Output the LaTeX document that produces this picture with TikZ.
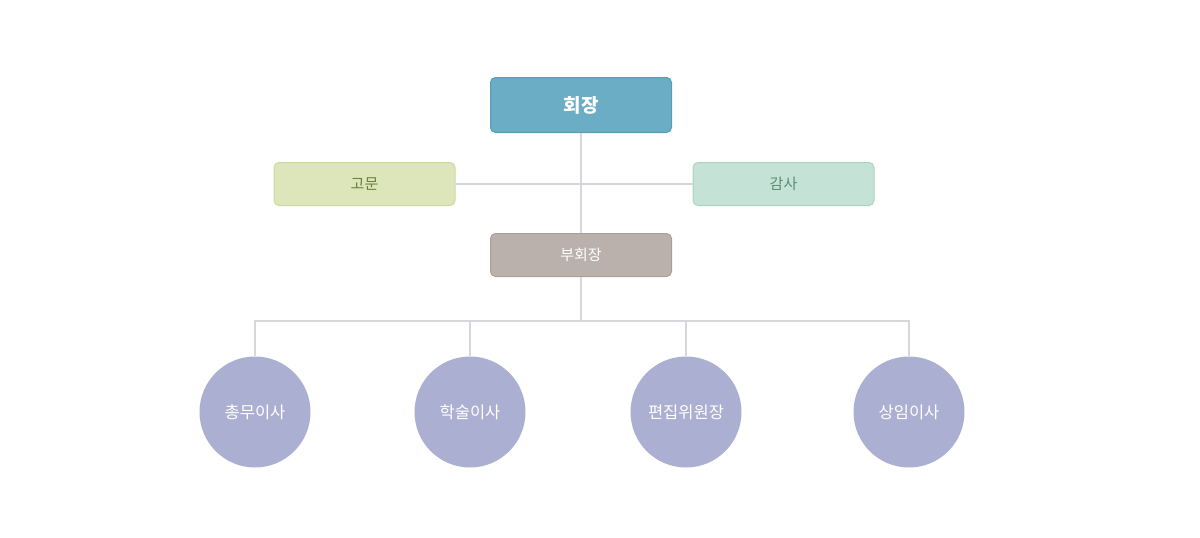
\documentclass[tikz,border=0pt]{standalone}
\usepackage{fontspec}
\newfontfamily\kr{Noto Sans CJK KR}
\definecolor{topfill}{HTML}{6AADC5}
\definecolor{topdraw}{HTML}{5A9CB4}
\definecolor{advfill}{HTML}{DDE5BB}
\definecolor{advdraw}{HTML}{CBDA9E}
\definecolor{advtext}{HTML}{6B7F38}
\definecolor{audfill}{HTML}{C5E2D6}
\definecolor{auddraw}{HTML}{A9D4C3}
\definecolor{audtext}{HTML}{5C8C77}
\definecolor{vicefill}{HTML}{BAB1AD}
\definecolor{vicedraw}{HTML}{A99F9B}
\definecolor{circfill}{HTML}{ABB0D2}
\definecolor{linec}{HTML}{D5D7DB}
\begin{document}
\begin{tikzpicture}[x=1pt,y=-1pt,
  box/.style={rectangle, rounded corners=5pt, line width=1pt, minimum width=181pt, inner sep=0pt, font=\kr\fontsize{15}{17}\selectfont},
  circ/.style={circle, fill=circfill, minimum size=111pt, inner sep=0pt, text=white, font=\kr\fontsize{16.5}{18}\selectfont},
  conn/.style={draw=linec, line width=1.5pt}]
\useasboundingbox (0,0) rectangle (1200,538);
\node[box, fill=topfill, draw=topdraw, minimum height=55pt, text=white, font=\kr\bfseries\fontsize{19}{21}\selectfont] (pres) at (581,105) {회장};
\node[box, fill=advfill, draw=advdraw, minimum height=43pt, text=advtext] (adv) at (364.5,184) {고문};
\node[box, fill=audfill, draw=auddraw, minimum height=43pt, text=audtext] (aud) at (783.5,184) {감사};
\node[box, fill=vicefill, draw=vicedraw, minimum height=43pt, text=white] (vice) at (581,255) {부회장};
\node[circ] (c1) at (255,412) {총무이사};
\node[circ] (c2) at (470,412) {학술이사};
\node[circ] (c3) at (686,412) {편집위원장};
\node[circ] (c4) at (909,412) {상임이사};
\coordinate (bar) at (581,321);
\draw[conn] (pres.south) -- (vice.north);
\draw[conn] (adv.east) -- (aud.west);
\draw[conn] (vice.south) -- (bar);
\draw[conn] (c1.north) |- (bar);
\draw[conn] (c2.north) -- (c2.north |- bar);
\draw[conn] (c3.north) -- (c3.north |- bar);
\draw[conn] (c4.north) |- (bar);
\end{tikzpicture}
\end{document}
